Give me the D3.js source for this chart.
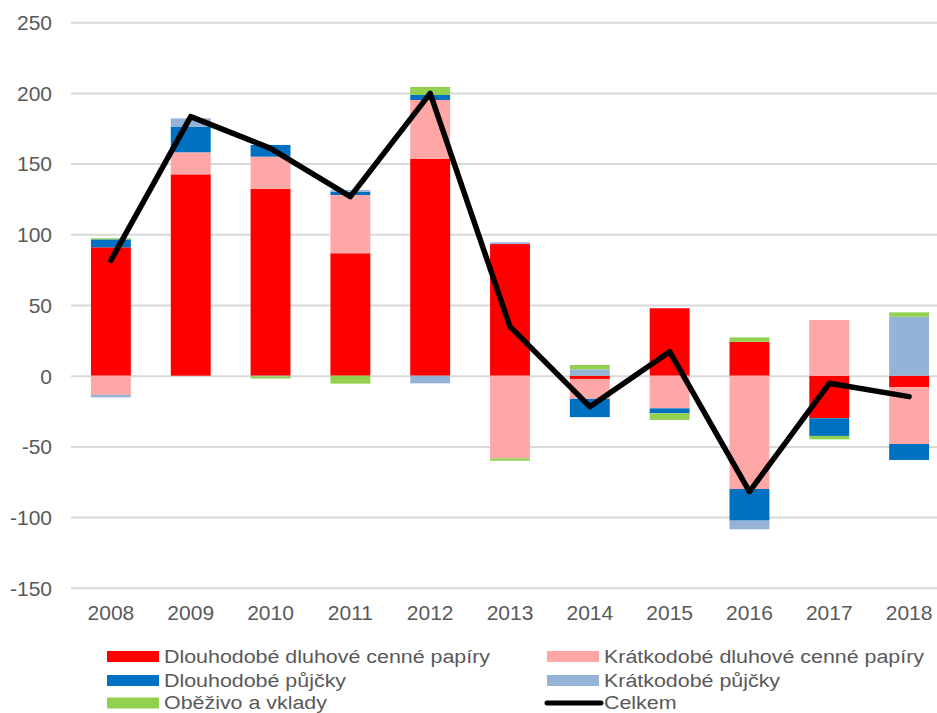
<!DOCTYPE html>
<html>
<head>
<meta charset="utf-8">
<script src="https://cdn.jsdelivr.net/npm/d3@7"></script>
<style>
  body { margin: 0; background: white; }
  svg { display: block; font-family: "Liberation Sans", Arial, sans-serif; }
</style>
</head>
<body>
<div id="chart"></div>
<script>
const years = ["2008","2009","2010","2011","2012","2013","2014","2015","2016","2017","2018"];
const seriesNames = ["Dlouhodobé dluhové cenné papíry", "Krátkodobé dluhové cenné papíry",
                     "Dlouhodobé půjčky", "Krátkodobé půjčky", "Oběživo a vklady"];
const longSecurities  = [90.8, 142.4, 132.2, 86.6, 153.3, 93.1, -2.3, 47.7, 24.0, -30.1, -8.2];
const shortSecurities = [-13.6, 15.6, 22.7, 41.2, 41.7, -58.4, -14.1, -23.1, -80.1, 39.4, -40.1];
const longLoans       = [5.6, 17.9, 8.3, 2.3, 3.5, 0, -12.9, -3.5, -22.4, -12.5, -11.3];
const shortLoans      = [-1.7, 6.1, -0.5, 1.2, -5.4, 1.2, 4.5, 0, -6.1, 0, 41.7];
const currency        = [0.8, 0, -1.5, -5.6, 5.7, -1.7, 3.1, -4.7, 3.1, -2.4, 3.1];
const total           = [81.6, 183.2, 160.8, 126.6, 199.7, 34.7, -21.9, 17.0, -82.0, -5.4, -14.8];
const yTicks = [-150, -100, -50, 0, 50, 100, 150, 200, 250];
const totalName = "Celkem";

const colors = ["#ff0000", "#ffa7a7", "#0070c0", "#95b3d7", "#92d050"];
const width = 937, height = 713;
const textColor = "#595959";

const rows = years.map((y, i) => {
    const r = {year: y};
    [longSecurities, shortSecurities, longLoans, shortLoans, currency]
        .forEach((s, k) => r[seriesNames[k]] = s[i]);
    return r;
});

const svg = d3.select("#chart").append("svg")
    .attr("width", width)
    .attr("height", height);

const x = d3.scaleBand()
    .domain(years)
    .range([71, 949])
    .paddingInner(0.5)
    .paddingOuter(0.25);

const y = d3.scaleLinear()
    .domain([-150, 250])
    .range([587.8, 22.2]);

// gridlines + y labels
const yAxis = svg.append("g")
    .attr("transform", "translate(71,0)")
    .call(d3.axisLeft(y).tickValues(yTicks).tickFormat(d => String(d))
        .tickSize(-(949 - 71)).tickPadding(19));
yAxis.select(".domain").remove();
yAxis.selectAll(".tick line").attr("stroke", "#d9d9d9").attr("stroke-width", 2);
yAxis.selectAll(".tick text")
    .attr("fill", textColor)
    .style("font-size", "21px")
    .attr("dy", "0.35em");

// stacked bars
const stack = d3.stack().keys(seriesNames).offset(d3.stackOffsetDiverging);
const stacked = stack(rows);

svg.append("g").selectAll("g")
    .data(stacked)
    .enter().append("g")
    .attr("fill", (d, i) => colors[i])
    .selectAll("rect")
    .data(d => d)
    .enter().append("rect")
    .attr("x", d => x(d.data.year))
    .attr("width", x.bandwidth())
    .attr("y", d => y(Math.max(d[0], d[1])))
    .attr("height", d => Math.abs(y(d[0]) - y(d[1])));

// x labels
const xAxis = svg.append("g")
    .attr("transform", `translate(0,${y(-150)})`)
    .call(d3.axisBottom(x).tickSize(0).tickPadding(17));
xAxis.select(".domain").remove();
xAxis.selectAll(".tick text")
    .attr("fill", textColor)
    .style("font-size", "21px");

// total line
const line = d3.line()
    .x((d, i) => x(years[i]) + x.bandwidth() / 2)
    .y(d => y(d));

svg.append("path")
    .datum(total)
    .attr("d", line)
    .attr("fill", "none")
    .attr("stroke", "black")
    .attr("stroke-width", 5.5)
    .attr("stroke-linejoin", "round")
    .attr("stroke-linecap", "round");

// legend
const legendItems = [
    {name: seriesNames[0], color: colors[0], col: 0, row: 0},
    {name: seriesNames[1], color: colors[1], col: 1, row: 0},
    {name: seriesNames[2], color: colors[2], col: 0, row: 1},
    {name: seriesNames[3], color: colors[3], col: 1, row: 1},
    {name: seriesNames[4], color: colors[4], col: 0, row: 2},
    {name: totalName, color: "black", col: 1, row: 2, isLine: true}
];
const colX = [107, 547];
const rowY = [656.5, 680.5, 703];

const legend = svg.append("g");
legendItems.forEach(item => {
    const lx = colX[item.col], ly = rowY[item.row];
    if (item.isLine) {
        legend.append("line")
            .attr("x1", lx).attr("x2", lx + 54)
            .attr("y1", ly).attr("y2", ly)
            .attr("stroke", item.color)
            .attr("stroke-width", 5)
            .attr("stroke-linecap", "round");
    } else {
        legend.append("rect")
            .attr("x", lx).attr("y", ly - 5.5)
            .attr("width", 52).attr("height", 11)
            .attr("fill", item.color);
    }
    legend.append("text")
        .attr("transform", `translate(${lx + 57},${ly}) scale(1.19,1)`)
        .attr("dy", "0.35em")
        .attr("fill", textColor)
        .style("font-size", "18px")
        .text(item.name);
});
</script>
</body>
</html>
